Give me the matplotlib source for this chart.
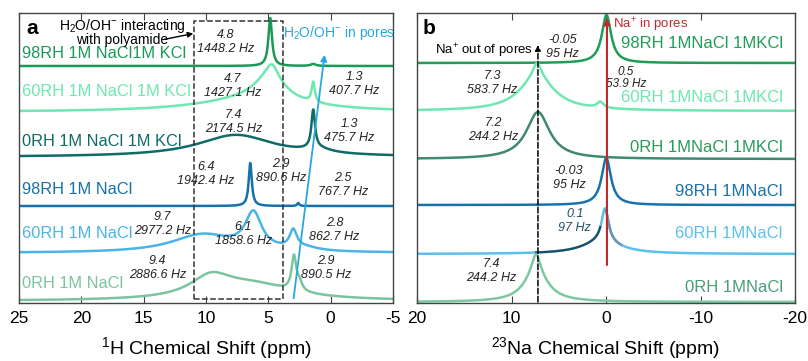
import matplotlib
matplotlib.use("Agg")
import matplotlib.pyplot as plt
import numpy as np

plt.rcParams['font.family'] = ['Liberation Sans', 'DejaVu Sans']
plt.rcParams['mathtext.fontset'] = 'custom'
plt.rcParams['mathtext.rm'] = 'Liberation Sans'
plt.rcParams['mathtext.it'] = 'Liberation Sans:italic'

# ---- panel a: 1H spectra (offset, then peaks as (ppm, fwhm, height)) ----
a_labels = ["98RH 1M NaCl1M KCl", "60RH 1M NaCl 1M KCl", "0RH 1M NaCl 1M KCl",
            "98RH 1M NaCl", "60RH 1M NaCl", "0RH 1M NaCl"]
a_colors = ["#1a9a56", "#6ee8b0", "#0e6b66", "#1870a8", "#4ab4e6", "#7cc4a0"]
a_offsets = [237, 191, 146, 97, 50, 2]
a_peaks = [
    [(4.85, 0.35, 48), (1.4, 0.5, 2)],
    [(4.7, 1.2, 14), (4.9, 3.2, 24), (6.5, 11, 11), (1.4, 0.3, 20)],
    [(7.6, 7.5, 22), (1.4, 0.35, 38), (1.0, 2.5, 4)],
    [(6.45, 0.3, 43), (2.6, 0.2, 3)],
    [(6.2, 1.6, 36), (10.3, 6, 18), (3.0, 0.7, 18), (2.0, 2.5, 3)],
    [(9.6, 4, 20), (6.2, 8, 15), (2.95, 0.45, 34), (2.5, 0.5, 8)],
]
a_label_y = [250, 211, 162, 113, 70, 20]
a_notes = [(8.4, 261, "4.8\n1448.2 Hz"), (7.9, 217, "4.7\n1427.1 Hz"),
           (-1.9, 219, "1.3\n407.7 Hz"), (7.8, 181, "7.4\n2174.5 Hz"),
           (-1.5, 172, "1.3\n475.7 Hz"), (10.0, 129, "6.4\n1942.4 Hz"),
           (4.0, 132, "2.9\n890.6 Hz"), (-1.0, 118, "2.5\n767.7 Hz"),
           (13.5, 79, "9.7\n2977.2 Hz"), (7.0, 69, "6.1\n1858.6 Hz"),
           (-0.3, 73, "2.8\n862.7 Hz"), (13.9, 35, "9.4\n2886.6 Hz"),
           (0.4, 35, "2.9\n890.5 Hz")]

# ---- panel b: 23Na spectra ----
b_labels = ["98RH 1MNaCl 1MKCl", "60RH 1MNaCl 1MKCl", "0RH 1MNaCl 1MKCl",
            "98RH 1MNaCl", "60RH 1MNaCl", "0RH 1MNaCl"]
b_colors = ["#1e9e56", "#6ee8b0", "#3f8a6e", "#1a72aa", "#5cc0ec", "#7cc8a0"]
b_label_colors = ["#1e9e56", "#6ee8b0", "#2a9a5a", "#1a72aa", "#5cc0ec", "#4a9c7a"]
b_offsets = [240, 192, 144, 98, 49, 1]
b_peaks = [
    [(-0.05, 1.2, 48)],
    [(7.3, 1.0, 14), (7.3, 4.5, 34), (0.6, 0.8, 6)],
    [(7.2, 3.0, 47)],
    [(-0.03, 1.2, 47)],
    [(0.1, 0.9, 34), (0.5, 5, 12)],
    [(7.4, 1.0, 18), (7.4, 3.0, 30)],
]
b_label_y = [259, 206, 156, 111, 70, 16]
b_notes = [(4.6, 256, "-0.05\n95 Hz"), (12.0, 220, "7.3\n583.7 Hz"),
           (11.9, 173, "7.2\n244.2 Hz"), (3.9, 125, "-0.03\n95 Hz"),
           (12.1, 32, "7.4\n244.2 Hz")]


def spectrum(x, peaks):
    y = np.zeros_like(x)
    for c, w, h in peaks:
        y += h / (1 + ((x - c) / (w / 2)) ** 2)
    return y


fig = plt.figure(figsize=(8.08, 3.61), dpi=100)
axa = fig.add_axes([19 / 808, 58 / 361, 374 / 808, 290 / 361])
axb = fig.add_axes([417 / 808, 58 / 361, 378 / 808, 290 / 361])

# panel a
xa = np.linspace(25, -5, 4000)
for lab, col, off, pk, ly in zip(a_labels, a_colors, a_offsets, a_peaks, a_label_y):
    axa.plot(xa, off + spectrum(xa, pk), color=col, lw=1.8)
    axa.text(24.75, ly, lab, color=col, fontsize=11.8, va='center', ha='left')
for x, y, s in a_notes:
    axa.text(x, y, s, fontsize=9, style='italic', ha='center', va='center',
             linespacing=1.3, color='#222222')
axa.plot([11, 3.8, 3.8, 11, 11], [4, 4, 282, 282, 4], ls='--', color='#333333', lw=1.1)
axa.annotate("", xy=(0.46, 251), xytext=(3.0, 2),
             arrowprops=dict(arrowstyle='-|>', color='#2aa6e0', lw=1.3, mutation_scale=9))
axa.text(3.8, 270, "H$_2$O/OH$^{-}$ in pores", color='#2aa6e0', fontsize=10, va='center')
axa.text(16.7, 271, "H$_2$O/OH$^{-}$ interacting\nwith polyamide", fontsize=10,
         ha='center', va='center', linespacing=0.9)
axa.annotate("", xy=(10.8, 270), xytext=(13.6, 263),
             arrowprops=dict(arrowstyle='-|>', color='black', lw=1.0, mutation_scale=8))
axa.text(24.4, 274, "a", fontsize=15, fontweight='bold', va='center')
axa.set_xlim(25, -5)
axa.set_xticks([25, 20, 15, 10, 5, 0, -5])
axa.set_xticklabels(["25", "20", "15", "10", "5", "0", "-5"])
axa.set_xlabel("$^{1}$H Chemical Shift (ppm)", fontsize=14, labelpad=6)

# panel b
xb = np.linspace(20, -20, 4000)
for i, (lab, col, lcol, off, pk, ly) in enumerate(zip(b_labels, b_colors, b_label_colors,
                                                      b_offsets, b_peaks, b_label_y)):
    yb = off + spectrum(xb, pk)
    axb.plot(xb, yb, color=col, lw=1.8)
    if i == 4:
        m = (xb < 7.4) & (xb > 0.6)
        axb.plot(xb[m], yb[m], color='#1d4e66', lw=1.6)
        m = (xb < 0.0) & (xb > -1.6)
        axb.plot(xb[m], yb[m], color='#6f93b0', lw=1.8)
    axb.text(-18.7, ly, lab, color=lcol, fontsize=12, va='center', ha='right')
for x, y, s in b_notes:
    axb.text(x, y, s, fontsize=9, style='italic', ha='center', va='center',
             linespacing=1.3, color='#222222')
axb.text(-2.1, 225, "0.5\n53.9 Hz", fontsize=8.5, style='italic', ha='center',
         va='center', linespacing=1.1, color='#222222')
axb.text(3.3, 82, "0.1\n97 Hz", fontsize=9, style='italic', ha='center',
         va='center', linespacing=1.3, color='#1d4e66')
axb.annotate("", xy=(7.2, 258), xytext=(7.2, 1),
             arrowprops=dict(arrowstyle='-|>', color='black', lw=1.1, ls='--',
                             mutation_scale=8, shrinkA=0, shrinkB=0))
axb.annotate("", xy=(-0.1, 285), xytext=(-0.1, 38),
             arrowprops=dict(arrowstyle='-|>', color='#c0282d', lw=1.5,
                             mutation_scale=9, shrinkA=0, shrinkB=0))
axb.text(-0.7, 278, "Na$^{+}$ in pores", color='#c0282d', fontsize=9.5, va='center')
axb.text(12.9, 252, "Na$^{+}$ out of pores", fontsize=9.5, va='center', ha='center')
axb.text(19.4, 274, "b", fontsize=15, fontweight='bold', va='center')
axb.set_xlim(20, -20)
axb.set_xticks([20, 10, 0, -10, -20])
axb.set_xticklabels(["20", "10", "0", "-10", "-20"])
axb.set_xlabel("$^{23}$Na Chemical Shift (ppm)", fontsize=14, labelpad=6)

for ax in (axa, axb):
    ax.set_ylim(0, 290)
    ax.set_yticks([])
    ax.tick_params(axis='x', direction='in', top=True, length=5, labelsize=12.5,
                   color='#444444', pad=6)
    for sp in ax.spines.values():
        sp.set_color('#444444')
        sp.set_linewidth(1.0)

fig.savefig("out.png", dpi=100)
